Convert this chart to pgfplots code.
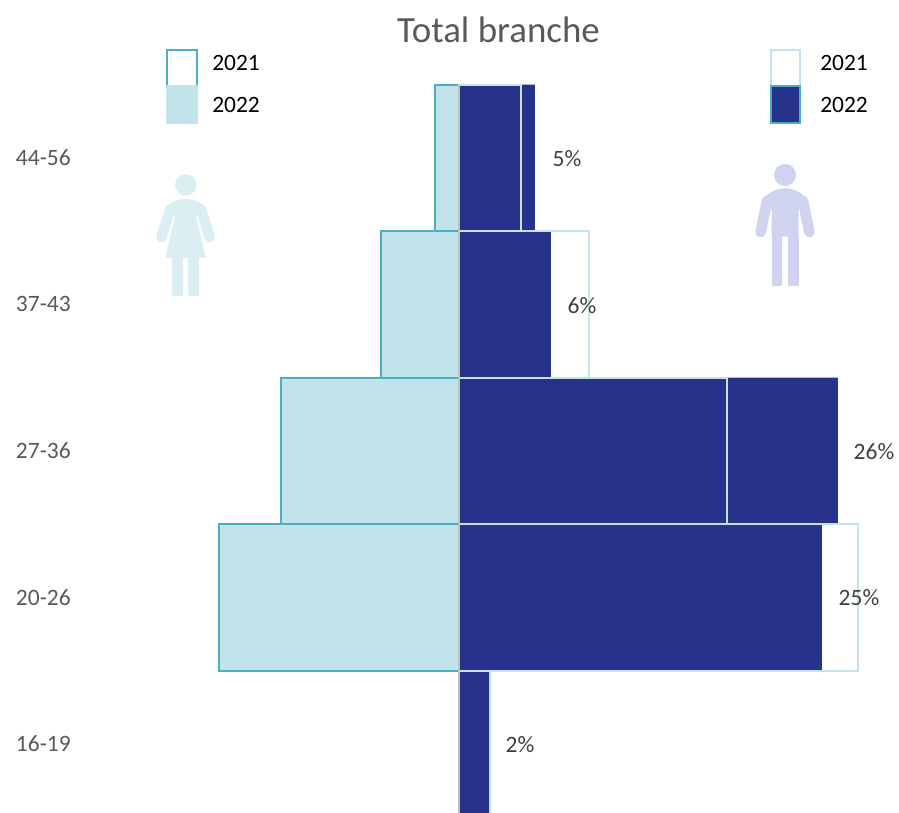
\documentclass[border=0pt]{standalone}
\usepackage{fontspec}
\setmainfont{Carlito}
\usepackage{pgfplots}
\pgfplotsset{compat=1.18}
\definecolor{txt}{HTML}{595959}
\definecolor{lab}{HTML}{404040}
\definecolor{teal}{HTML}{4BAFC4}
\definecolor{pale}{HTML}{C3E3EA}
\definecolor{navy}{HTML}{27338A}
\definecolor{zero}{HTML}{BFBFBF}
\definecolor{fem}{HTML}{DBEEF2}
\definecolor{mal}{HTML}{D0D3F0}
\begin{document}
\begin{tikzpicture}
\useasboundingbox (0,0) rectangle (674.25pt,609.75pt);
\begin{axis}[
  scale only axis, width=674.25pt, height=609.75pt,
  anchor=south west, at={(0,0)},
  xmin=-31.44, xmax=30.14, ymin=-0.471, ymax=5.078,
  xbar, bar width=1, bar shift=0pt,
  hide x axis,
  axis y line*=left,
  y axis line style={draw=none},
  major tick length=0pt,
  ytick={0,1,2,3,4},
  yticklabels={16-19,20-26,27-36,37-43,44-56},
  yticklabel style={anchor=west, xshift=12pt, font=\fontsize{17.6pt}{20pt}\selectfont, text=txt, inner sep=0pt, outer sep=0pt},
]
% women 2022
\addplot[fill=pale, draw=none] coordinates {(-1.64,4) (-5.34,3) (-12.19,2) (-16.44,1)};
% men 2022
\addplot[fill=navy, draw=none] coordinates {(5.2,4) (6.3,3) (25.96,2) (24.86,1) (2.05,0)};
% women 2021
\addplot[fill=none, draw=teal, line width=1.5pt] coordinates {(-1.64,4) (-5.34,3) (-12.19,2) (-16.44,1)};
% men 2021
\addplot[fill=none, draw=pale, line width=1.5pt] coordinates {(4.25,4) (8.9,3) (18.36,2) (27.33,1) (2.1,0)};
% zero line
\addplot[sharp plot, draw=zero, line width=1.5pt, forget plot] coordinates {(0,-1) (0,4.5)};
\end{axis}
\begin{scope}[x=0.75pt, y=-0.75pt, yshift=609.75pt]
  % title
  \node[text=txt, font=\fontsize{27.7pt}{30pt}\selectfont] at (498.5,30) {Total branche};
  % data labels
  \begin{scope}[every node/.style={text=lab, font=\fontsize{17.6pt}{20pt}\selectfont, inner sep=0pt}]
    \node at (567,159) {5\%};
    \node at (582,306) {6\%};
    \node at (874,452) {26\%};
    \node at (859,598) {25\%};
    \node at (520,745) {2\%};
  \end{scope}
  % legend left
  \fill[pale] (166,85) rectangle (197.7,124.3);
  \draw[teal, line width=1.5pt] (167,85.5) -- (167,50) -- (196.7,50) -- (196.7,85.5);
  % legend right
  \draw[pale, line width=1.5pt] (771,85) -- (771,50) -- (800,50) -- (800,85);
  \fill[navy] (771,85) rectangle (800,123);
  \draw[teal, line width=1.8pt] (771.2,86) rectangle (799.8,123);
  \begin{scope}[every node/.style={text=black, font=\fontsize{17.6pt}{20pt}\selectfont, inner sep=0pt, anchor=west}]
    \node at (212,63) {2021};
    \node at (212,104.5) {2022};
    \node at (820,63) {2021};
    \node at (820,104.5) {2022};
  \end{scope}
  % woman icon
  \fill[fem] (185.7,185) circle[radius=10.7];
  \fill[fem] (167,206) .. controls (172,201) and (179,199) .. (185.7,199) .. controls (192,199) and (199,201) .. (204.5,206) -- (196,217) -- (206,258) -- (165,258) -- (175,217) -- cycle;
  \draw[fem, line width=8pt, line cap=round] (170.5,209) -- (161.5,237);
  \draw[fem, line width=8pt, line cap=round] (200.8,209) -- (209.8,237);
  \fill[fem] (172,257) rectangle (182.7,296);
  \fill[fem] (188.3,257) rectangle (199,296);
  % man icon
  \fill[mal] (785,175) circle[radius=11];
  \fill[mal] (763,199) .. controls (770,191) and (778,188.3) .. (785,188.3) .. controls (792,188.3) and (800,191) .. (807,199) -- (798.7,210) -- (798.7,236.7) -- (771.7,236.7) -- (771.7,210) -- cycle;
  \draw[mal, line width=8pt, line cap=round] (767,201) -- (760.7,232);
  \draw[mal, line width=8pt, line cap=round] (803,201) -- (809.3,232);
  \fill[mal] (771.7,236) rectangle (782.3,285.7);
  \fill[mal] (788,236) rectangle (798.7,285.7);
\end{scope}
\end{tikzpicture}
\end{document}
